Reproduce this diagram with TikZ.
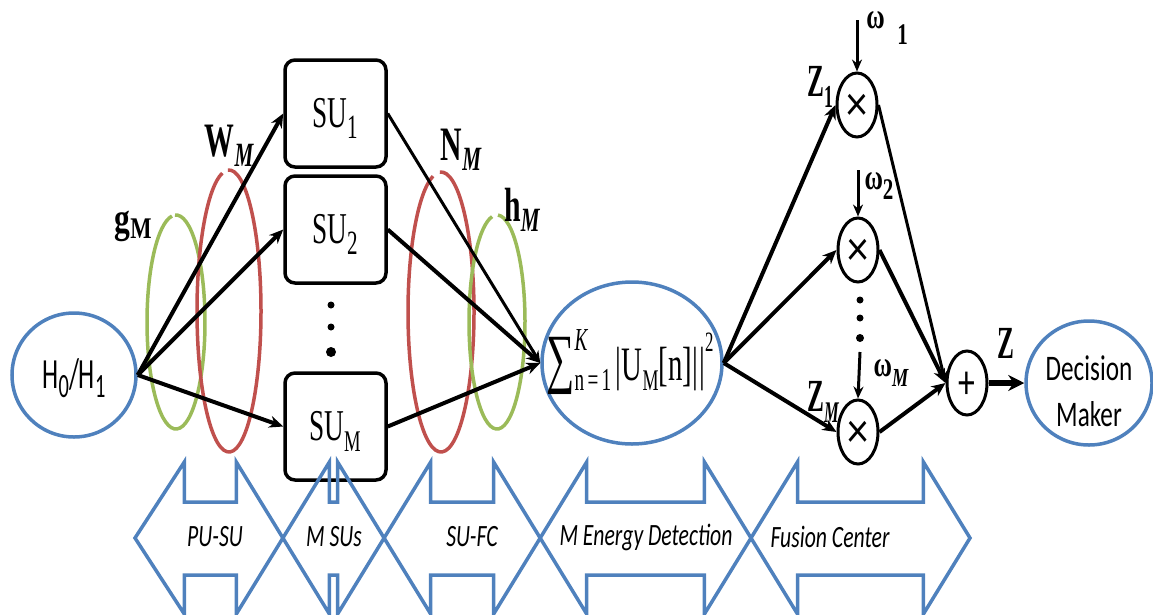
\documentclass[tikz,border=0pt]{standalone}
\usepackage{fontspec}
\setmainfont{Liberation Serif}
\newfontfamily\calib{Carlito}
\usetikzlibrary{arrows.meta,shapes.geometric}
\definecolor{bl}{RGB}{79,129,189}
\definecolor{rd}{RGB}{192,80,77}
\definecolor{gr}{RGB}{155,187,89}
\newcommand{\hs}[2]{\scalebox{#1}[1]{#2}}
\newcommand{\fs}[1]{\fontsize{#1}{#1}\selectfont}
\newcommand{\dblarrow}[4]{\draw[band] (#1,538) -- (#2,462) -- (#2,502) -- (#3,502) -- (#3,462) -- (#4,538) -- (#3,614) -- (#3,575) -- (#2,575) -- (#2,614) -- cycle;}
\begin{document}
\begin{tikzpicture}[x=1pt,y=-1pt,
  blueell/.style={ellipse, draw=bl, line width=3.5pt, inner sep=0pt},
  subox/.style={draw, rounded corners=10pt, line width=3.5pt, minimum width=101pt, minimum height=107pt, inner sep=0pt},
  mult/.style={ellipse, draw, line width=3pt, minimum width=40pt, minimum height=64pt, inner sep=0pt},
  conn/.style={line width=4pt, -{Stealth[length=14pt,width=12pt]}},
  thinconn/.style={line width=3pt, -{Stealth[length=12pt,width=10pt]}},
  txt/.style={inner sep=0pt},
  band/.style={draw=bl, line width=3.5pt, line join=miter},
  ring/.style={line width=3.5pt},
]
\useasboundingbox (0,0) rectangle (1153,614);

% coloured channel ellipses
\draw[ring, gr] (176,322) ++(268:29 and 107) arc[start angle=268, end angle=622, x radius=29, y radius=107];
\draw[ring, rd] (229,311) ++(268:32 and 141) arc[start angle=268, end angle=618, x radius=32, y radius=141];
\draw[ring, rd] (441,312) ++(268:33 and 140) arc[start angle=268, end angle=616, x radius=33, y radius=140];
\draw[ring, gr] (497,322) ++(272:28 and 107) arc[start angle=272, end angle=620, x radius=28, y radius=107];

% main nodes
\node[blueell, minimum width=124pt, minimum height=124pt] (H) at (74,375) {};
\node[txt] (Ht) at (74,378) {\hs{0.6}{\calib\fs{43}H\raisebox{-0.2em}{\fs{34}0}/H\raisebox{-0.2em}{\fs{34}1}}};

\node[subox] (SU1) at (335.5,113.5) {};
\node[subox] (SU2) at (335.5,229.5) {};
\node[subox] (SUM) at (335.5,426.5) {};
\node[txt] (SU1t) at (335,118) {\hs{0.62}{\fs{44}SU\raisebox{-0.25em}{\fs{34}1}}};
\node[txt] (SU2t) at (335,234) {\hs{0.62}{\fs{44}SU\raisebox{-0.25em}{\fs{34}2}}};
\node[txt] (SUMt) at (335,431) {\hs{0.62}{\fs{44}SU\raisebox{-0.25em}{\fs{30}M}}};

\fill (331,305) circle[radius=3.5];
\fill (331,327) circle[radius=3.5];
\fill (331,352) circle[radius=5];

\node[blueell, minimum width=180pt, minimum height=162pt] (S) at (632,363) {};
\node[txt] (St) at (630,362) {\hs{0.6}{\fs{66}∑\fs{32}\makebox[0pt][l]{\raisebox{0.95em}{\itshape K}}\raisebox{-0.3em}{n\,=\,1}\fs{48}\,|U\raisebox{-0.2em}{\fs{30}M}[n]|\kern0.05em|\raisebox{0.6em}{\fs{28}2}}};

\node[mult] (M1) at (857,105) {};
\node[mult] (M2) at (858,250) {};
\node[mult] (MM) at (858,432) {};
\node[mult] (P) at (967,383) {};
\node[txt] (M1t) at (857,107) {\hs{0.85}{\calib\fs{50}×}};
\node[txt] (M2t) at (858,252) {\hs{0.85}{\calib\fs{50}×}};
\node[txt] (MMt) at (858,434) {\hs{0.85}{\calib\fs{50}×}};
\node[txt] (Pt) at (967,385) {\hs{0.7}{\calib\fs{48}+}};

\node[blueell, minimum width=126pt, minimum height=124pt] (DM) at (1089,383) {};
\node[txt, align=center, font=\calib\fs{36}] (DMt) at (1089,391) {\hs{0.7}{Decision}\\[10pt]\hs{0.7}{Maker}};

\fill (860,300) circle[radius=3.5];
\fill (860,318) circle[radius=3.5];
\fill (860,338) circle[radius=4];

% labels
\node[txt] (gl) at (133,226) {\hs{0.75}{\fs{42}\bfseries g\raisebox{-0.15em}{\fs{30}M}}};
\node[txt] (wl) at (229,146) {\hs{0.62}{\fs{48}\bfseries W\raisebox{-0.2em}{\fs{34}\itshape M}}};
\node[txt] (nl) at (461,150) {\hs{0.62}{\fs{48}\bfseries N\raisebox{-0.2em}{\fs{34}\itshape M}}};
\node[txt] (hl) at (522,210) {\hs{0.62}{\fs{48}\bfseries h\raisebox{-0.2em}{\fs{34}\itshape M}}};

\node[txt] (z1) at (820,87) {\hs{0.55}{\fs{46}\bfseries Z\raisebox{-0.25em}{\fs{32}1}}};
\node[txt] (zm) at (823,402) {\hs{0.55}{\fs{46}\bfseries Z\raisebox{-0.25em}{\fs{30}\itshape M}}};
\node[txt] (zl) at (1006,343) {\hs{0.55}{\fs{46}\bfseries Z}};
\node[txt] (w1l) at (887,28) {\hs{0.7}{\fs{36}\bfseries ω\ \ \raisebox{-0.45em}{\fs{30}1}}};
\node[txt] (w2l) at (879,186) {\hs{0.7}{\fs{36}\bfseries ω\raisebox{-0.3em}{\fs{30}2}}};
\node[txt] (wml) at (891,373) {\hs{0.7}{\fs{36}\bfseries ω\raisebox{-0.3em}{\fs{26}\itshape M}}};

% connectors
\draw[conn] (H.east) -- (SU1.west);
\draw[conn] (H.east) -- (SU2.west);
\draw[conn] (H.east) -- (SUM.west);
\draw[thinconn] (SU1.east) -- (S.west);
\draw[conn] (SU2.east) -- (S.west);
\draw[conn] (SUM.east) -- (S.west);
\draw[conn] (S.east) -- (M1.west);
\draw[conn] (S.east) -- (M2.west);
\draw[conn] (S.east) -- (MM.west);
\draw[thinconn] (M1.east) -- (P.west);
\draw[conn] (M2.east) -- (P.west);
\draw[conn] (MM.east) -- (P.west);
\draw[line width=6pt, -{Stealth[length=16pt,width=16pt]}] (P.east) -- (DM.west);
\coordinate (w1) at (857,20);
\coordinate (w2) at (858,170);
\coordinate (wm) at (860,352);
\draw[thinconn] (w1) -- (M1.north);
\draw[thinconn] (w2) -- (M2.north);
\draw[thinconn] (wm) -- (MM.north);

% bottom stage arrows
\dblarrow{135}{184.3}{236.3}{282.9}
\dblarrow{282.9}{329.4}{337.6}{384.1}
\dblarrow{384.1}{430.7}{493.6}{540.2}
\dblarrow{540.2}{586.7}{704.4}{751}
\dblarrow{751}{797.5}{923.4}{970}
\node[txt] (b1) at (215,537) {\hs{0.7}{\calib\itshape\fs{31}PU-SU}};
\node[txt] (b2) at (334,537) {\hs{0.7}{\calib\itshape\fs{31}M SUs}};
\node[txt] (b3) at (472,537) {\hs{0.7}{\calib\itshape\fs{31}SU-FC}};
\node[txt] (b4) at (646,537) {\hs{0.7}{\calib\itshape\fs{31}M Energy Detection}};
\node[txt] (b5) at (830,537) {\hs{0.7}{\calib\itshape\fs{31}Fusion Center}};
\end{tikzpicture}
\end{document}
